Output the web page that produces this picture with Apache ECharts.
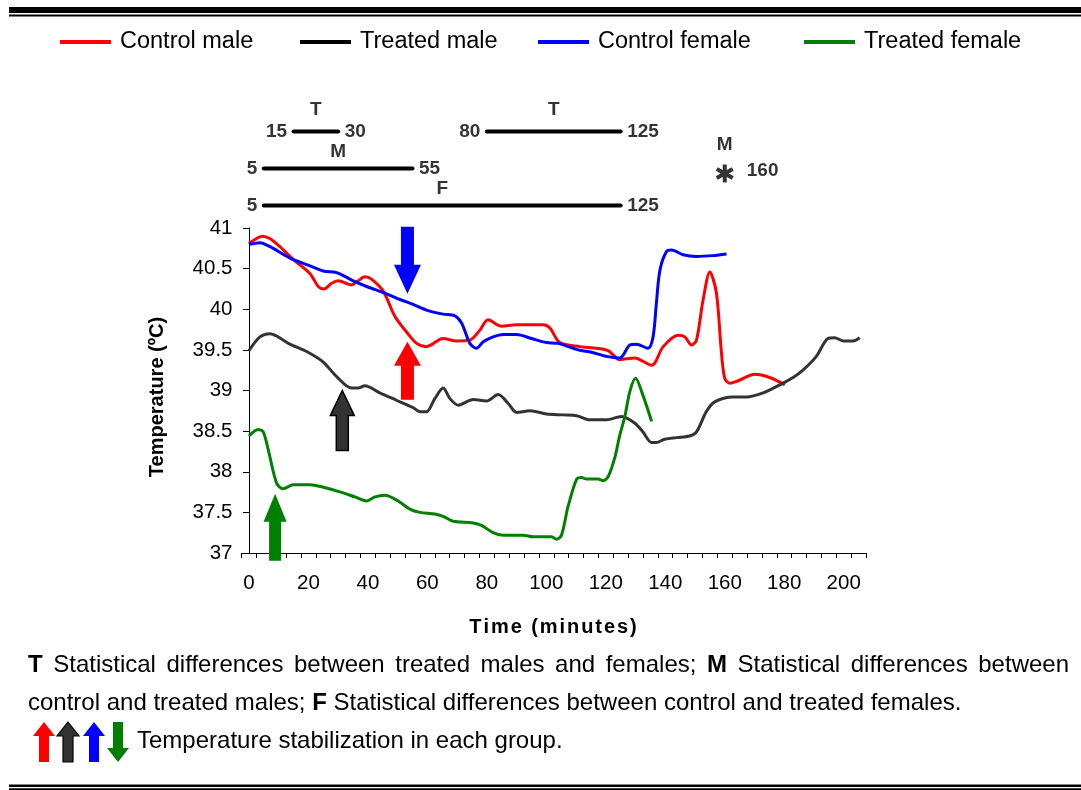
<!DOCTYPE html>
<html>
<head>
<meta charset="utf-8">
<script src="https://cdn.jsdelivr.net/npm/echarts@6/dist/echarts.min.js"></script>
<style>
  html, body { margin: 0; padding: 0; background: #fff; }
  #chart { width: 1081px; height: 790px; }
</style>
</head>
<body>
<div id="chart"></div>
<script>
// ---- data: body temperature (ºC) against time (minutes) ----
const seriesNames = ['Control male', 'Treated male', 'Control female', 'Treated female'];

const controlMale = [
  [0,40.81],[3,40.88],[4.5,40.90],[7,40.87],[10.4,40.77],[15,40.61],[20.5,40.44],[23.3,40.28],
  [25.2,40.25],[27.8,40.32],[30,40.35],[34.5,40.30],[36.7,40.35],[39,40.40],[41.2,40.37],
  [45.2,40.22],[49.1,39.91],[53,39.72],[56.4,39.58],[59.7,39.54],[65.3,39.64],[69.8,39.61],
  [74.3,39.62],[77.6,39.74],[80.4,39.87],[84.9,39.79],[90,39.81],[98.9,39.81],[101.2,39.77],
  [104.5,39.59],[111.3,39.54],[116.9,39.52],[120.8,39.49],[124.7,39.38],[129.7,39.40],
  [135.4,39.31],[139.3,39.54],[144.3,39.68],[146.6,39.66],[148.8,39.56],[150.5,39.62],
  [152.7,40.11],[155,40.46],[157.2,40.20],[158.9,39.46],[160,39.15],[161.7,39.09],
  [164.5,39.12],[170.1,39.20],[175.1,39.16],[180.2,39.07]
];

const treatedMale = [
  [0,39.49],[3.7,39.66],[7.1,39.70],[9.8,39.66],[13.8,39.57],[19.4,39.48],[25,39.35],
  [29.5,39.17],[34.5,39.03],[36.7,39.03],[39,39.06],[44,38.97],[49.6,38.88],[55.2,38.79],
  [57.5,38.74],[59.7,38.74],[62.5,38.90],[65.3,39.03],[67.6,38.90],[70.4,38.82],[75.4,38.89],
  [79.9,38.87],[83.8,38.95],[87.2,38.84],[90,38.73],[94.5,38.75],[100.1,38.71],[105.6,38.70],
  [110.2,38.69],[114.6,38.64],[120.2,38.64],[125.3,38.68],[129.7,38.60],[132.5,38.49],
  [135.4,38.36],[137,38.36],[139.8,38.40],[143.8,38.42],[148.2,38.44],[150.5,38.49],
  [153.8,38.74],[156.6,38.86],[162.8,38.92],[167.3,38.92],[172.9,38.97],[178.5,39.07],
  [183,39.16],[186.3,39.25],[190.8,39.42],[194.7,39.64],[197,39.65],[199.8,39.61],
  [203.1,39.61],[205.4,39.65]
];

const controlFemale = [
  [0,40.80],[3.7,40.82],[7.1,40.77],[13.8,40.63],[19.4,40.55],[25,40.47],[29.5,40.45],
  [35.1,40.35],[39.6,40.28],[46.3,40.19],[50.8,40.12],[55.2,40.06],[59.7,39.99],[65.3,39.94],
  [69.2,39.92],[71.5,39.83],[74.3,39.58],[76.5,39.52],[78.8,39.60],[82.1,39.66],[85.5,39.69],
  [90,39.69],[95,39.64],[100,39.59],[104,39.58],[110.7,39.50],[115.2,39.47],[120.2,39.42],
  [124.7,39.40],[128.1,39.56],[130.3,39.57],[134.2,39.52],[135.9,39.66],[137,40.07],
  [138.2,40.48],[140.4,40.71],[142.1,40.73],[146,40.67],[150.5,40.65],[156.1,40.66],
  [160.6,40.68]
];

const treatedFemale = [
  [0,38.44],[3.1,38.52],[4.8,38.49],[6.5,38.27],[9.3,37.86],[11.5,37.79],[14.9,37.84],
  [20.5,37.84],[25,37.81],[31.7,37.74],[35.6,37.69],[39.6,37.64],[42.4,37.69],[45.7,37.71],
  [50.2,37.64],[54.1,37.54],[57.5,37.50],[62.5,37.48],[65.3,37.45],[68.7,37.39],[75.4,37.37],
  [78.2,37.34],[82.1,37.25],[85.5,37.22],[92.2,37.22],[95.6,37.20],[101.7,37.20],
  [103.4,37.17],[105.1,37.22],[107.3,37.57],[110.2,37.91],[111.8,37.93],[113.5,37.91],
  [117.4,37.91],[119.1,37.89],[120.8,37.94],[123,38.17],[124.7,38.45],[126.4,38.68],
  [128.1,38.99],[130,39.15],[132.5,38.94],[135.4,38.62]
];

// temperature stabilization (minute, temperature at arrow tip) for each group:
// control male, treated male, control female, treated female
const stabilTime = [53.3, 31.4, 53.3, 8.8];
const stabilTemp = [39.60, 39.00, 40.19, 37.73];

// intervals with statistical differences (minutes)
const diffStart  = [15, 80, 5, 5];
const diffEnd    = [30, 125, 55, 125];
const diffRow    = [0, 0, 1, 2];
const diffLetter = ['T', 'T', 'M', 'F'];
const singleDiffTime = 160;
const singleDiffLetter = 'M';

// axis ticks
const xLabelValues = [0, 20, 40, 60, 80, 100, 120, 140, 160, 180, 200];
const yMin = 37, yMax = 41, yStep = 0.5;

// ---- drawing ----
const FONT = 'Arial, "Liberation Sans", Helvetica, sans-serif';
const lineColors = ['#FF0000', '#333333', '#0000FF', '#008000'];
const legendIconColors = ['#FF0000', '#000000', '#0000FF', '#008000'];
const legendLeft = [55, 295, 533, 799];
const seriesData = [controlMale, treatedMale, controlFemale, treatedFemale];

const X_MIN = -2.5, X_MAX = 207.5;
const xTickValues = [];
for (let v = X_MIN; v <= X_MAX + 1e-9; v += 5) xTickValues.push(v);

const arrowLook = [
  { fill: '#FF0000', stroke: null,   dir: 1,  shaft: 13, head: 27, headLen: 24, len: 58 },
  { fill: '#333333', stroke: '#000', dir: 1,  shaft: 12, head: 24, headLen: 25, len: 60 },
  { fill: '#0000FF', stroke: null,   dir: -1, shaft: 13, head: 27, headLen: 29, len: 67 },
  { fill: '#008000', stroke: null,   dir: 1,  shaft: 12, head: 23, headLen: 28, len: 67 }
];

function arrowPoints(x, y, a) {
  const s = a.dir;
  return [
    [x, y],
    [x + a.head / 2, y + s * a.headLen],
    [x + a.shaft / 2, y + s * a.headLen],
    [x + a.shaft / 2, y + s * a.len],
    [x - a.shaft / 2, y + s * a.len],
    [x - a.shaft / 2, y + s * a.headLen],
    [x - a.head / 2, y + s * a.headLen]
  ];
}

// text measuring for justified / letter-spaced captions
const measureCtx = document.createElement('canvas').getContext('2d');
function textWidth(str, font) { measureCtx.font = font; return measureCtx.measureText(str).width; }

// caption line 1 is justified between x=28 and x=1069
const CAP_SIZE = 24;
const capFont = CAP_SIZE + 'px ' + FONT;
const capBold = 'bold ' + CAP_SIZE + 'px ' + FONT;
const line1Words = [['T', true], ['Statistical'], ['differences'], ['between'], ['treated'], ['males'],
  ['and'], ['females;'], ['M', true], ['Statistical'], ['differences'], ['between']];
let wordsW = 0;
line1Words.forEach(w => { wordsW += textWidth(w[0], w[1] ? capBold : capFont); });
const line1Gap = (1041 - wordsW) / (line1Words.length - 1);
const line1Text = line1Words.map(w => w[1] ? '{b|' + w[0] + '}' : w[0]).join('{s| }');

// axis title with widened letter spacing
const xTitle = 'Time (minutes)';
const xTitleFont = 'bold 20px ' + FONT;
const xTitleGap = Math.max(0, (167 - textWidth(xTitle, xTitleFont)) / (xTitle.length - 1));
const xTitleText = xTitle.split('').join('{g| }');

// six-armed asterisk marker (three bars through the centre)
const asteriskPath = 'path://M39,0L61,0L61,100L39,100Z ' +
  'M0.7,34.9L11.7,15.9L99.3,65.1L88.3,84.1Z ' +
  'M11.7,84.1L0.7,65.1L88.3,15.9L99.3,34.9Z';

const series = [];
seriesData.forEach((d, i) => {
  series.push({
    name: seriesNames[i], type: 'line', data: d, xAxisIndex: 0, yAxisIndex: 0,
    smooth: 0.3, symbol: 'none', showSymbol: false,
    lineStyle: { color: lineColors[i], width: 3 }, itemStyle: { color: lineColors[i] },
    z: 3
  });
});

// stabilization arrows
series.push({
  type: 'custom', xAxisIndex: 0, yAxisIndex: 0, z: 5, clip: false, silent: true,
  data: stabilTime.map((t, i) => [t, stabilTemp[i], i]),
  renderItem: function (params, api) {
    const a = arrowLook[api.value(2)];
    const p = api.coord([api.value(0), api.value(1)]);
    return {
      type: 'polygon',
      shape: { points: arrowPoints(p[0], p[1], a) },
      style: { fill: a.fill, stroke: a.stroke || null, lineWidth: a.stroke ? 1.5 : 0 }
    };
  }
});

// difference intervals above the plot
const annLabel = { fontSize: 19, fontWeight: 'bold', color: '#000', fontFamily: FONT };
diffStart.forEach((s, i) => {
  series.push({
    type: 'line', xAxisIndex: 1, yAxisIndex: 1, silent: true,
    data: [[s, diffRow[i]], [diffEnd[i], diffRow[i]]],
    symbol: 'none', lineStyle: { color: '#000', width: 4, cap: 'round' }
  });
  series.push({
    type: 'scatter', xAxisIndex: 1, yAxisIndex: 1, silent: true,
    symbol: 'circle', symbolSize: 1, itemStyle: { color: 'rgba(0,0,0,0)' },
    data: [
      { value: [s, diffRow[i]], label: { show: true, position: 'left', distance: 6, formatter: String(s), ...annLabel } },
      { value: [diffEnd[i], diffRow[i]], label: { show: true, position: 'right', distance: 6, formatter: String(diffEnd[i]), ...annLabel } },
      { value: [(s + diffEnd[i]) / 2, diffRow[i]], label: { show: true, position: 'top', distance: diffRow[i] === 0 ? 12 : 7, formatter: diffLetter[i], ...annLabel } }
    ]
  });
});
series.push({
  type: 'scatter', xAxisIndex: 1, yAxisIndex: 1, silent: true,
  symbol: asteriskPath, symbolSize: [18, 18], symbolOffset: [0, 5],
  itemStyle: { color: '#000' },
  data: [[singleDiffTime, 1]],
  label: { show: true, position: 'right', distance: 13, offset: [0, -3], formatter: String(singleDiffTime), ...annLabel }
});
series.push({
  type: 'scatter', xAxisIndex: 1, yAxisIndex: 1, silent: true,
  symbol: 'circle', symbolSize: 1, itemStyle: { color: 'rgba(0,0,0,0)' },
  data: [[singleDiffTime, 1]],
  label: { show: true, position: 'top', distance: 14, formatter: singleDiffLetter, ...annLabel }
});

// small arrows in the caption
const capArrows = [
  { x: 44, fill: '#FF0000', stroke: null, dir: 1 },
  { x: 68, fill: '#333333', stroke: '#000', dir: 1 },
  { x: 94, fill: '#0000FF', stroke: null, dir: 1 },
  { x: 118, fill: '#008000', stroke: null, dir: -1 }
];
const capArrowGraphics = capArrows.map(c => ({
  type: 'polygon', z: 10,
  shape: { points: arrowPoints(c.x, c.dir === 1 ? 722 : 762, { dir: c.dir, shaft: 10, head: 22, headLen: 14, len: 40 }) },
  style: { fill: c.fill, stroke: c.stroke || null, lineWidth: c.stroke ? 1.2 : 0 }
}));

const option = {
  backgroundColor: '#fff',
  animation: false,
  textStyle: { fontFamily: FONT },
  legend: seriesNames.map((n, i) => ({
    data: [{ name: n, icon: 'rect', itemStyle: { color: legendIconColors[i] } }],
    left: legendLeft[i], top: 25, itemWidth: 51, itemHeight: 4, selectedMode: false,
    textStyle: { fontSize: 23.5, color: '#000', fontFamily: FONT, padding: [0, 0, 0, 4] }
  })),
  grid: [
    { left: 241.5, right: 215, top: 228, bottom: 237, outerBoundsMode: 'none' },
    { left: 241.5, right: 215, top: 113, height: 111, outerBoundsMode: 'none' }
  ],
  xAxis: [
    {
      type: 'value', gridIndex: 0, min: X_MIN, max: X_MAX,
      axisLine: { show: true, lineStyle: { color: '#000', width: 1 } },
      axisTick: { show: true, customValues: xTickValues, length: 5, lineStyle: { color: '#000' } },
      axisLabel: { customValues: xLabelValues, fontSize: 20.5, color: '#000', margin: 20, fontFamily: FONT },
      splitLine: { show: false }
    },
    { type: 'value', gridIndex: 1, min: X_MIN, max: X_MAX, show: false }
  ],
  yAxis: [
    {
      type: 'value', gridIndex: 0, min: yMin, max: yMax, interval: yStep,
      axisLine: { show: true, lineStyle: { color: '#000', width: 1 } },
      axisTick: { show: true, length: 6, lineStyle: { color: '#000' } },
      axisLabel: { fontSize: 20.5, color: '#000', margin: 9, fontFamily: FONT },
      splitLine: { show: false }
    },
    { type: 'value', gridIndex: 1, min: -0.5, max: 2.5, inverse: true, show: false }
  ],
  graphic: [
    // double rules at top and bottom
    { type: 'rect', shape: { x: 9, y: 7, width: 1072, height: 6 }, style: { fill: '#000' } },
    { type: 'rect', shape: { x: 9, y: 14.5, width: 1072, height: 2 }, style: { fill: '#000' } },
    { type: 'rect', shape: { x: 9, y: 784.5, width: 1072, height: 2.5 }, style: { fill: '#000' } },
    { type: 'rect', shape: { x: 9, y: 788.3, width: 1072, height: 1.7 }, style: { fill: '#000' } },
    // axis titles
    {
      type: 'text', x: 157, y: 397, rotation: Math.PI / 2,
      style: { text: 'Temperature (ºC)', font: 'bold 20px ' + FONT, fill: '#000', align: 'center', verticalAlign: 'middle' }
    },
    {
      type: 'text', x: 553, y: 627,
      style: {
        text: xTitleText, font: xTitleFont, fill: '#000', align: 'center', verticalAlign: 'middle',
        rich: { g: { width: xTitleGap, font: xTitleFont } }
      }
    },
    // caption
    {
      type: 'text', x: 28, y: 665,
      style: {
        text: line1Text, font: capFont, fill: '#000', align: 'left', verticalAlign: 'middle',
        rich: { b: { font: capBold, fill: '#000' }, s: { width: line1Gap, font: capFont } }
      }
    },
    {
      type: 'text', x: 28, y: 703,
      style: {
        text: 'control and treated males; {b|F} Statistical differences between control and treated females.',
        font: capFont, fill: '#000', align: 'left', verticalAlign: 'middle',
        rich: { b: { font: capBold, fill: '#000' } }
      }
    },
    {
      type: 'text', x: 137, y: 741,
      style: { text: 'Temperature stabilization in each group.', font: capFont, fill: '#000', align: 'left', verticalAlign: 'middle' }
    }
  ].concat(capArrowGraphics),
  series: series
};

const chart = echarts.init(document.getElementById('chart'), null, { renderer: 'canvas' });
chart.setOption(option);
</script>
</body>
</html>
